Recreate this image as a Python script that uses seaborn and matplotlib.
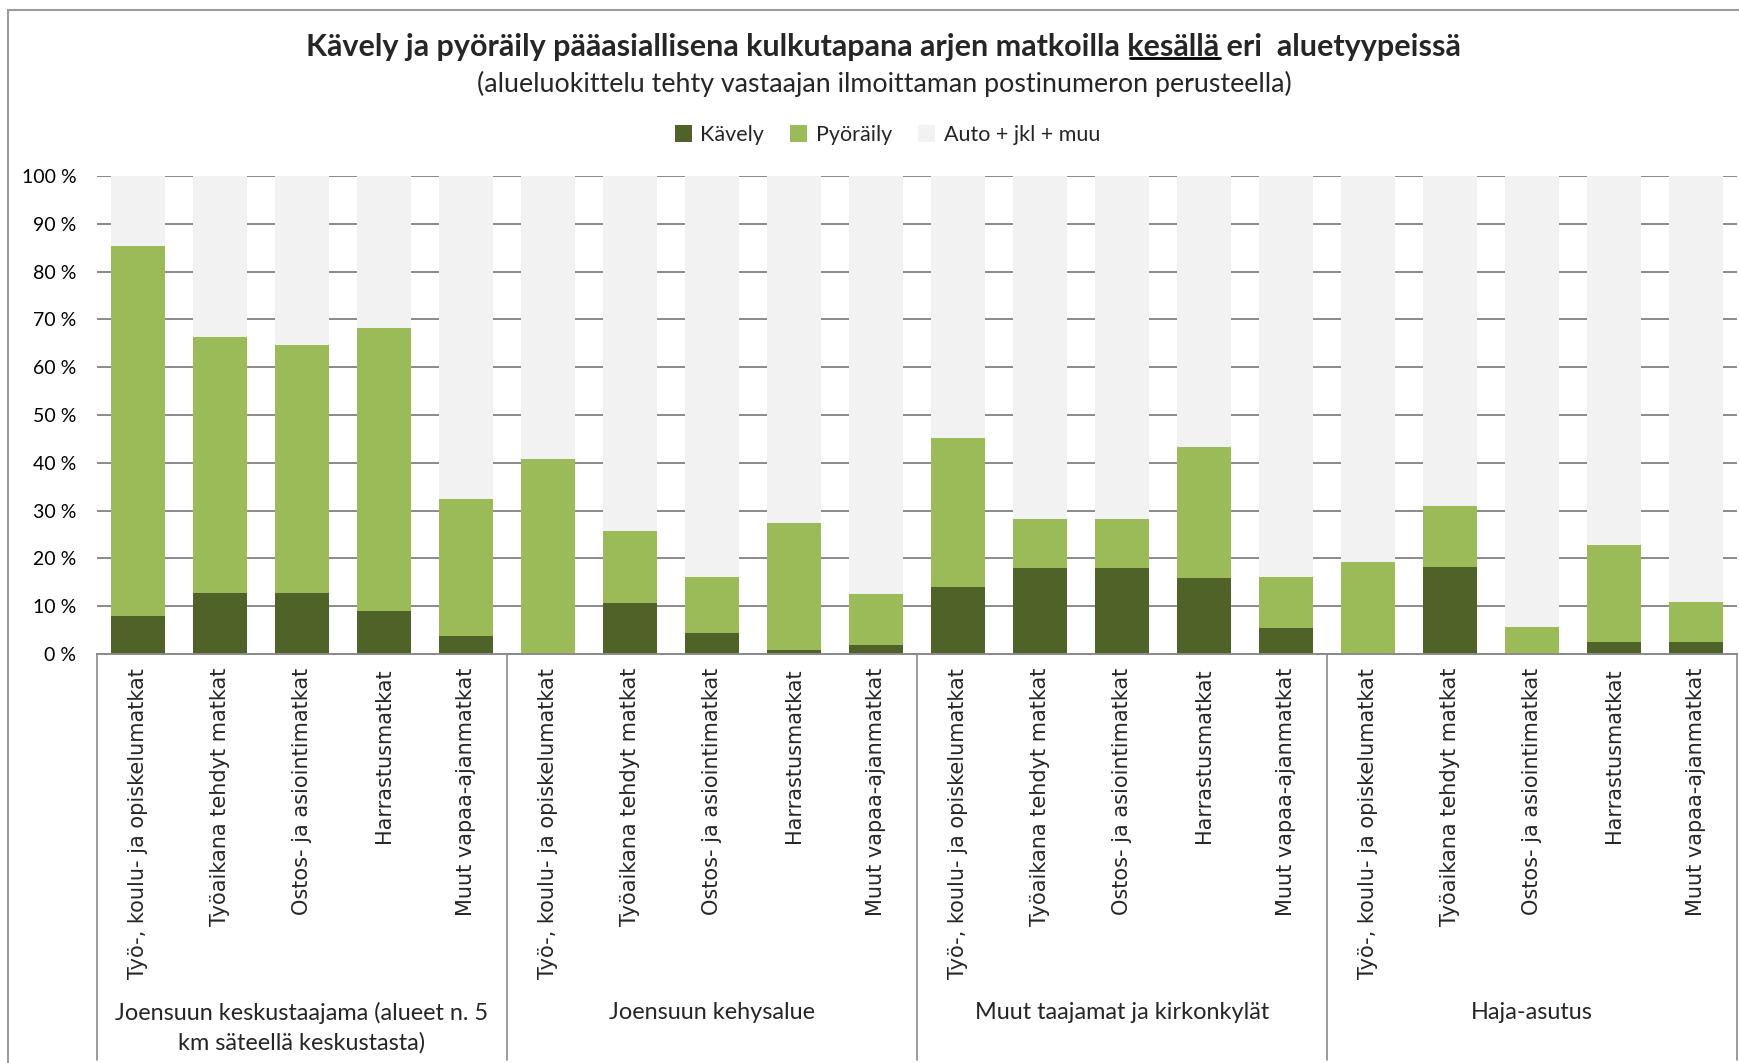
import numpy as np
import pandas as pd
import matplotlib
matplotlib.use("Agg")
import matplotlib.pyplot as plt
import matplotlib.transforms as mtransforms
from matplotlib.patches import Patch, Rectangle
import seaborn as sns

# data (percent)
groups = ["Joensuun keskustaajama (alueet n. 5\nkm säteellä keskustasta)",
          "Joensuun kehysalue",
          "Muut taajamat ja kirkonkylät",
          "Haja-asutus"]
trips = ["Työ-, koulu- ja opiskelumatkat",
         "Työaikana tehdyt matkat",
         "Ostos- ja asiointimatkat",
         "Harrastusmatkat",
         "Muut vapaa-ajanmatkat"]
kavely = [8.0, 12.8, 12.8, 8.9, 3.7,
          0.0, 10.6, 4.3, 0.8, 1.9,
          14.1, 17.9, 17.9, 15.8, 5.5,
          0.0, 18.3, 0.0, 2.5, 2.5]
pyoraily = [77.3, 53.5, 51.8, 59.4, 28.7,
            40.7, 15.2, 11.8, 26.7, 10.7,
            31.1, 10.3, 10.3, 27.6, 10.6,
            19.2, 12.7, 5.7, 20.2, 8.4]
series = ["Kävely", "Pyöräily", "Auto + jkl + muu"]
colors = ["#4F6228", "#9BBB59", "#F2F2F2"]

n = len(kavely)
df = pd.DataFrame({
    "pos": np.arange(n),
    "group": [g for g in groups for _ in trips],
    "trip": trips * len(groups),
    "Kävely": kavely,
    "Pyöräily": pyoraily,
})
df["Auto + jkl + muu"] = 100 - df["Kävely"] - df["Pyöräily"]
# cumulative tops for stacking
df["top_walk"] = df["Kävely"]
df["top_bike"] = df["Kävely"] + df["Pyöräily"]
df["top_all"] = df["top_bike"] + df["Auto + jkl + muu"]

sns.set_style("white")
plt.rcParams["font.family"] = ["Lato", "DejaVu Sans"]

W, H = 1740, 1063
fig = plt.figure(figsize=(W / 100, H / 100), dpi=100)
ax = fig.add_axes([97 / W, 1 - 654 / H, (1737 - 97) / W, (654 - 176) / H])

bw = 0.67
for col, c in zip(["top_all", "top_bike", "top_walk"], colors[::-1]):
    sns.barplot(data=df, x="pos", y=col, color=c, width=bw, ax=ax,
                saturation=1, linewidth=0, errorbar=None)

ax.set_xlim(-0.5, n - 0.5)
ax.set_ylim(0, 100)
ax.set_yticks(np.arange(0, 101, 10))
ax.set_yticklabels([f"{v} %" for v in range(0, 101, 10)], fontsize=14, color="#000000")
ax.yaxis.grid(True, color="#8a8a8a", linewidth=1.4)
ax.set_axisbelow(True)
ax.tick_params(axis="y", length=0, pad=15)
ax.tick_params(axis="x", length=0, pad=10)
ax.set_xticks(df["pos"])
ax.set_xticklabels(df["trip"], rotation=90, va="top", ha="center",
                   fontsize=15, family="DejaVu Sans")
ax.set_xlabel("")
ax.set_ylabel("")
for s in ["top", "right", "left"]:
    ax.spines[s].set_visible(False)
ax.spines["bottom"].set_color("#8a8a8a")
ax.spines["bottom"].set_linewidth(1.4)

# group separators and group labels below the axis
trans = mtransforms.blended_transform_factory(ax.transData, ax.transAxes)
ng = len(trips)
bottom_y = -(1060 - 654) / (654 - 176)
for k in range(len(groups) + 1):
    xs = k * ng - 0.5
    ax.plot([xs, xs], [0, bottom_y], transform=trans, color="#8a8a8a",
            linewidth=1.2, clip_on=False)
label_y = -(1002 - 654) / (654 - 176)
for k, g in enumerate(groups):
    ax.text(k * ng + (ng - 1) / 2, label_y, g, transform=trans, ha="center",
            va="top", fontsize=16.9, linespacing=1.45)

# title with underlined word
title_pre = "Kävely ja pyöräily pääasiallisena kulkutapana arjen matkoilla "
title_u = "kesällä"
title_post = " eri  aluetyypeissä"
tfs = 22
tx, ty = 0.508, 1 - 47 / H
t = fig.text(tx, ty, title_pre + title_u + title_post, ha="center", va="center",
             fontsize=tfs, fontweight="bold")
fig.canvas.draw()
r = fig.canvas.get_renderer()
bb = t.get_window_extent(r)
tmp = fig.text(0, 0, title_pre, fontsize=tfs, fontweight="bold")
w_pre = tmp.get_window_extent(r).width
tmp.set_text(title_pre + title_u)
w_u = tmp.get_window_extent(r).width
tmp.remove()
uy = (bb.y0 + 3) / H
fig.add_artist(plt.Line2D([(bb.x0 + w_pre + 2) / W, (bb.x0 + w_u) / W], [uy, uy],
                          transform=fig.transFigure, color="black", linewidth=2))

fig.text(0.508, 1 - 84 / H,
         "(alueluokittelu tehty vastaajan ilmoittaman postinumeron perusteella)",
         ha="center", va="center", fontsize=19.3)

handles = [Patch(facecolor=c, edgecolor="none", label=s) for s, c in zip(series, colors)]
fig.legend(handles=handles, loc="center", bbox_to_anchor=(0.51, 1 - 135 / H), ncol=3,
           frameon=False, fontsize=15.5, handlelength=0.8, handleheight=0.8,
           handletextpad=0.4, columnspacing=1.2)

# outer chart border
fig.add_artist(Rectangle((8 / W, -0.01), 1.0, 1 - 10 / H + 0.01, transform=fig.transFigure,
                         facecolor="none", edgecolor="#9a9a9a", linewidth=1.5))

fig.savefig("out.png", dpi=100)
